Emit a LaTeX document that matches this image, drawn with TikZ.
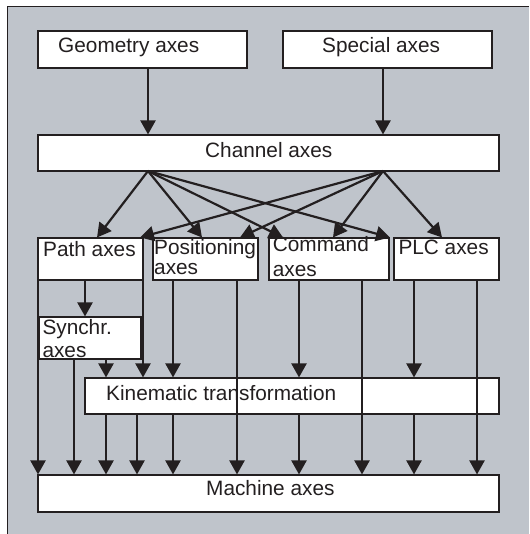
\documentclass[tikz,border=0pt]{standalone}
\usepackage{fontspec}
\setmainfont{Liberation Sans}
\usetikzlibrary{arrows.meta}
\definecolor{bg}{RGB}{191,196,203}
\definecolor{ink}{RGB}{35,31,32}
\tikzset{
  box/.style={draw=ink, line width=1.1pt, fill=white, inner sep=0pt, anchor=center},
  lbl/.style={inner sep=0pt, anchor=base west, font=\fontsize{20.8}{22}\selectfont, text=ink},
  arr/.style={draw=ink, line width=2.2pt, -{Triangle[width=15pt,length=14pt]}},
}
\begin{document}
\begin{tikzpicture}[x=1pt,y=-1pt]
\useasboundingbox (0,0) rectangle (529,534);
\fill[white] (0,0) rectangle (529,534);
\fill[bg] (7,7) rectangle (529,534);
\draw[ink, line width=1pt] (7,534) -- (7,7) -- (529,7);
% boxes
\node[box, minimum width=209pt, minimum height=37pt] (geo) at (142.5,49.5) {};
\node[box, minimum width=209pt, minimum height=37pt] (spec) at (387.5,49.5) {};
\node[box, minimum width=461pt, minimum height=36pt] (chan) at (268.5,153) {};
\node[box, minimum width=105pt, minimum height=42pt] (path) at (90.5,259) {};
\node[box, minimum width=105pt, minimum height=42pt] (pos) at (205.5,259) {};
\node[box, minimum width=120pt, minimum height=42pt] (cmd) at (329,259) {};
\node[box, minimum width=105pt, minimum height=42pt] (plc) at (446.5,259) {};
\node[box, minimum width=102pt, minimum height=42pt] (syn) at (90,338) {};
\node[box, minimum width=414pt, minimum height=36pt] (kin) at (292,396) {};
\node[box, minimum width=461pt, minimum height=37pt] (mach) at (268.5,493.5) {};
% texts
\node[lbl] (tgeo) at (58,53) {Geometry axes};
\node[lbl] (tspec) at (322,53) {Special axes};
\node[lbl] (tchan) at (205,158) {Channel axes};
\node[lbl] (tpath) at (43,256.7) {Path axes};
\node[lbl] (tpos1) at (154,254) {Positioning};
\node[lbl] (tpos2) at (154,274) {axes};
\node[lbl] (tcmd1) at (272.7,251.7) {Command};
\node[lbl] (tcmd2) at (272.7,276.7) {axes};
\node[lbl] (tplc) at (398.3,254) {PLC axes};
\node[lbl] (tsyn1) at (42.3,334) {Synchr.};
\node[lbl] (tsyn2) at (42.3,357.3) {axes};
\node[lbl] (tkin) at (106,400.7) {Kinematic transformation};
\node[lbl] (tmach) at (206,495.7) {Machine axes};
% channel anchors
\coordinate (cl) at (148,171);
\coordinate (cr) at (383,171);
% top arrows
\draw[arr] (geo.south -| cl) -- (chan.north -| cl);
\draw[arr] (spec.south -| cr) -- (chan.north -| cr);
% fan
\draw[arr] (cl) -- (path.north -| 97,0);
\draw[arr] (cl) -- (pos.north -| 202,0);
\draw[arr] (cl) -- (cmd.north -| 283,0);
\draw[arr] (cl) -- (plc.north -| 390,0);
\draw[arr] (cr) -- (path.north -| 140,0);
\draw[arr] (cr) -- (pos.north -| 240,0);
\draw[arr] (cr) -- (cmd.north -| 333,0);
\draw[arr] (cr) -- (plc.north -| 442,0);
% path axes
\draw[arr] (path.south -| 38,0) -- (mach.north -| 38,0);
\draw[arr] (path.south -| 85,0) -- (syn.north -| 85,0);
\draw[arr] (path.south -| 143,0) -- (kin.north -| 143,0);
% synchr
\draw[arr] (syn.south -| 74,0) -- (mach.north -| 74,0);
\draw[arr] (syn.south -| 106,0) -- (kin.north -| 106,0);
% positioning
\draw[arr] (pos.south -| 173,0) -- (kin.north -| 173,0);
\draw[arr] (pos.south -| 237,0) -- (mach.north -| 237,0);
% command
\draw[arr] (cmd.south -| 299,0) -- (kin.north -| 299,0);
\draw[arr] (cmd.south -| 362,0) -- (mach.north -| 362,0);
% plc
\draw[arr] (plc.south -| 414,0) -- (kin.north -| 414,0);
\draw[arr] (plc.south -| 477,0) -- (mach.north -| 477,0);
% kinematic to machine
\foreach \xx in {106,137,173,299,414}
  \draw[arr] (kin.south -| \xx,0) -- (mach.north -| \xx,0);
\end{tikzpicture}
\end{document}
